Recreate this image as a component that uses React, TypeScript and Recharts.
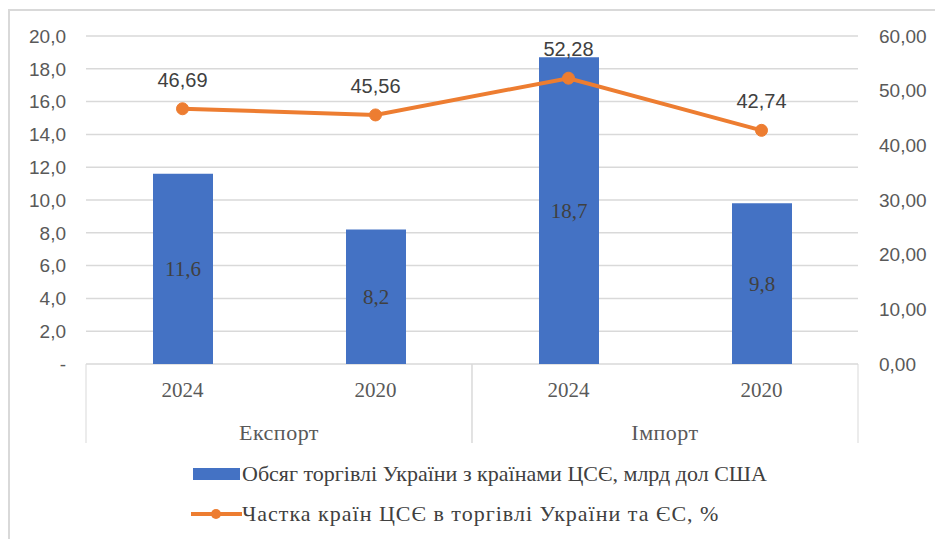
import React from "react";
import {
  ComposedChart,
  Bar,
  Line,
  XAxis,
  YAxis,
  CartesianGrid,
  LabelList,
  Legend,
} from "recharts";

const years = ["2024", "2020", "2024", "2020"];
const groups = ["Експорт", "Експорт", "Імпорт", "Імпорт"];
const tradeVolume = [11.6, 8.2, 18.7, 9.8];
const cseShare = [46.69, 45.56, 52.28, 42.74];
const leftTicks = [0, 2, 4, 6, 8, 10, 12, 14, 16, 18, 20];
const rightTicks = [0, 10, 20, 30, 40, 50, 60];
const volumeName = "Обсяг торгівлі України з країнами ЦСЄ, млрд дол США";
const shareName = "Частка країн ЦСЄ в торгівлі України та ЄС, %";

const data = years.map((y, i) => ({
  key: `${groups[i]}-${y}-${i}`,
  year: y,
  group: groups[i],
  volume: tradeVolume[i],
  share: cseShare[i],
}));

const BLUE = "#4472C4";
const ORANGE = "#ED7D31";
const GRID = "#D9D9D9";
const TEXT = "#595959";
const SANS = "'Liberation Sans', Arial, sans-serif";
const SERIF = "'Liberation Serif', 'Times New Roman', serif";

const comma = (v: number, d: number) => v.toFixed(d).replace(".", ",");

const YEAR_AXIS_H = 38;
const GROUP_AXIS_H = 40;

const YearTick = (props: any) => {
  const { x, y, index } = props;
  return (
    <text
      x={x}
      y={y + 18}
      textAnchor="middle"
      dominantBaseline="central"
      fontFamily={SERIF}
      fontSize={21}
      fill={TEXT}
    >
      {data[index] ? data[index].year : props.payload.value}
    </text>
  );
};

const GroupTick = (props: any) => {
  const { x, y, payload } = props;
  const half = payload && payload.offset ? payload.offset : 0;
  const top = y - 8 - YEAR_AXIS_H;
  const bottom = y - 8 + GROUP_AXIS_H + 1;
  return (
    <g>
      <line x1={x - half} x2={x - half} y1={top} y2={bottom} stroke={GRID} strokeWidth={1} />
      <line x1={x + half} x2={x + half} y1={top} y2={bottom} stroke={GRID} strokeWidth={1} />
      <text
        x={x}
        y={y + 22}
        textAnchor="middle"
        dominantBaseline="central"
        fontFamily={SERIF}
        fontSize={22}
        letterSpacing={0.5}
        fill={TEXT}
      >
        {payload.value}
      </text>
    </g>
  );
};

const LegendContent = () => (
  <div style={{ fontFamily: SERIF, fontSize: 22, color: "#404040", lineHeight: "24px" }}>
    <div style={{ display: "flex", alignItems: "center", height: 24 }}>
      <svg width={52} height={24} style={{ flex: "none" }}>
        <rect x={3} y={6} width={47} height={12} fill={BLUE} />
      </svg>
      <span style={{ whiteSpace: "nowrap" }}>{volumeName}</span>
    </div>
    <div style={{ display: "flex", alignItems: "center", height: 24, marginTop: 16 }}>
      <svg width={52} height={24} style={{ flex: "none" }}>
        <line x1={1} x2={52} y1={12} y2={12} stroke={ORANGE} strokeWidth={4} />
        <circle cx={26} cy={12} r={5} fill={ORANGE} />
      </svg>
      <span style={{ whiteSpace: "nowrap", letterSpacing: 1 }}>{shareName}</span>
    </div>
  </div>
);

export default function App() {
  return (
    <div
      style={{
        position: "absolute",
        left: 0,
        top: 0,
        width: 935,
        height: 539,
        overflow: "hidden",
        background: "#fff",
      }}
    >
      <div
        style={{
          position: "absolute",
          left: 8,
          top: 9,
          width: 960,
          height: 560,
          borderLeft: `2px solid ${GRID}`,
          borderTop: `2px solid ${GRID}`,
        }}
      />
      <div style={{ position: "absolute", left: 0, top: 0 }}>
        <ComposedChart
          width={935}
          height={539}
          data={data}
          margin={{ top: 36, right: 0, left: 0, bottom: 97 }}
        >
          <CartesianGrid yAxisId="left" vertical={false} stroke={GRID} strokeWidth={1.5} />
          <XAxis
            dataKey="key"
            xAxisId={0}
            height={YEAR_AXIS_H}
            axisLine={false}
            tickLine={false}
            interval={0}
            tick={<YearTick />}
          />
          <XAxis
            dataKey="group"
            xAxisId="grp"
            allowDuplicatedCategory={false}
            height={GROUP_AXIS_H}
            axisLine={false}
            tickLine={false}
            interval={0}
            tick={<GroupTick />}
          />
          <YAxis
            yAxisId="left"
            domain={[0, 20]}
            ticks={leftTicks}
            width={86}
            axisLine={false}
            tickLine={false}
            tickMargin={14}
            interval={0}
            tickFormatter={(v: number) => (v === 0 ? "-" : comma(v, 1))}
            tick={{ fontFamily: SANS, fontSize: 19, fill: TEXT }}
          />
          <YAxis
            yAxisId="right"
            orientation="right"
            domain={[0, 60]}
            ticks={rightTicks}
            width={77}
            axisLine={false}
            tickLine={false}
            tickMargin={15}
            interval={0}
            tickFormatter={(v: number) => comma(v, 2)}
            tick={{ fontFamily: SANS, fontSize: 19, fill: TEXT }}
          />
          <Bar
            yAxisId="left"
            dataKey="volume"
            name={volumeName}
            fill={BLUE}
            barSize={60}
            isAnimationActive={false}
          >
            <LabelList
              dataKey="volume"
              position="center"
              formatter={(v: any) => comma(Number(v), 1)}
              style={{ fontFamily: SERIF, fontSize: 21, fill: "#404040" }}
            />
          </Bar>
          <Line
            yAxisId="right"
            dataKey="share"
            name={shareName}
            stroke={ORANGE}
            strokeWidth={4}
            dot={{ r: 6, fill: ORANGE, stroke: ORANGE, strokeWidth: 1 }}
            isAnimationActive={false}
          >
            <LabelList
              dataKey="share"
              position="top"
              offset={22}
              formatter={(v: any) => comma(Number(v), 2)}
              style={{ fontFamily: SANS, fontSize: 20, fill: "#404040" }}
            />
          </Line>
          <Legend
            layout="vertical"
            align="center"
            verticalAlign="middle"
            wrapperStyle={{ top: 462, left: 190, width: 740, height: 70 }}
            content={<LegendContent />}
          />
        </ComposedChart>
      </div>
    </div>
  );
}
